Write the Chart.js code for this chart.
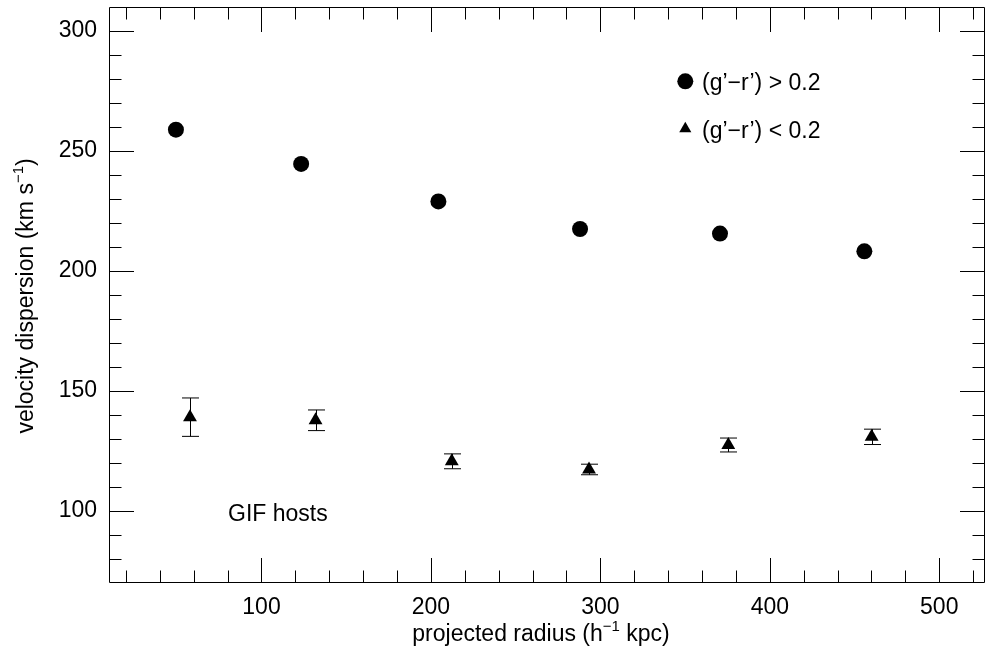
<!DOCTYPE html>
<html lang="en">
<head>
  <meta charset="UTF-8" />
  <title>Velocity dispersion vs projected radius</title>
  <script src="https://cdn.jsdelivr.net/npm/chart.js@4"></script>
  <style>
    body { margin: 0; background: #fff; }
    #wrap { width: 986px; height: 661px; position: relative; }
  </style>
</head>
<body>
  <div id="wrap"><canvas id="chart"></canvas></div>

  <script>
    // red galaxies: (g'-r') > 0.2
    const redRadius = [49.5, 123.4, 204.4, 288.0, 370.6, 455.8];
    const redSigma  = [258.9, 244.6, 229.0, 217.5, 215.6, 208.2];

    // blue galaxies: (g'-r') < 0.2
    const blueRadius = [57.8, 131.9, 212.3, 293.3, 375.5, 460.1];
    const blueSigma  = [139.1, 137.8, 120.7, 117.3, 127.5, 130.9];
    const blueErr    = [8.0, 4.3, 3.1, 2.2, 2.9, 3.2];

    // axis ticks
    const xMajorTicks = [100, 200, 300, 400, 500];
    const xMinorTicks = [20, 40, 60, 80, 120, 140, 160, 180, 220, 240, 260, 280,
                         320, 340, 360, 380, 420, 440, 460, 480, 520];
    const yMajorTicks = [100, 150, 200, 250, 300];
    const yMinorTicks = [80, 90, 110, 120, 130, 140, 160, 170, 180, 190,
                         210, 220, 230, 240, 260, 270, 280, 290];

    const FONT = "'Liberation Sans', Arial, Helvetica, sans-serif";

    // text with superscript pieces: parts = [[text, isSup], ...]
    function drawParts(ctx, parts, cx, baseline, size) {
      const widths = parts.map(p => {
        ctx.font = (p[1] ? size * 0.65 : size) + 'px ' + FONT;
        return ctx.measureText(p[0]).width;
      });
      let x = cx - widths.reduce((a, b) => a + b, 0) / 2;
      parts.forEach((p, i) => {
        ctx.font = (p[1] ? size * 0.65 : size) + 'px ' + FONT;
        ctx.fillText(p[0], x, p[1] ? baseline - size * 0.42 : baseline);
        x += widths[i];
      });
    }

    // keep the plot box where the original has it
    function fixBox(s, w, h) {
      if (w) s.width = w;
      if (h) s.height = h;
      s.paddingLeft = s.paddingRight = s.paddingTop = s.paddingBottom = 0;
    }

    const framePlugin = {
      id: 'frame',
      afterDatasetsDraw(chart) {
        const ctx = chart.ctx;
        const a = chart.chartArea;
        const xs = chart.scales.x, ys = chart.scales.y;
        ctx.save();
        ctx.strokeStyle = '#000';
        ctx.lineWidth = 1;

        // error bars
        ctx.beginPath();
        blueRadius.forEach((r, i) => {
          const px = Math.round(xs.getPixelForValue(r)) + 0.5;
          const lo = ys.getPixelForValue(blueSigma[i] - blueErr[i]);
          const hi = ys.getPixelForValue(blueSigma[i] + blueErr[i]);
          ctx.moveTo(px, lo); ctx.lineTo(px, hi);
          ctx.moveTo(px - 8.5, lo); ctx.lineTo(px + 8.5, lo);
          ctx.moveTo(px - 8.5, hi); ctx.lineTo(px + 8.5, hi);
        });
        ctx.stroke();

        // box
        ctx.beginPath();
        ctx.rect(a.left + 0.5, a.top + 0.5, a.right - a.left - 1, a.bottom - a.top - 1);
        ctx.stroke();

        // inward ticks on all four sides
        ctx.beginPath();
        const xt = (v, len) => {
          const p = Math.round(xs.getPixelForValue(v)) + 0.5;
          ctx.moveTo(p, a.bottom); ctx.lineTo(p, a.bottom - len);
          ctx.moveTo(p, a.top); ctx.lineTo(p, a.top + len);
        };
        const yt = (v, len) => {
          const p = Math.round(ys.getPixelForValue(v)) + 0.5;
          ctx.moveTo(a.left, p); ctx.lineTo(a.left + len, p);
          ctx.moveTo(a.right, p); ctx.lineTo(a.right - len, p);
        };
        xMajorTicks.forEach(v => xt(v, 25));
        xMinorTicks.forEach(v => xt(v, 12.5));
        yMajorTicks.forEach(v => yt(v, 25));
        yMinorTicks.forEach(v => yt(v, 12.5));
        ctx.stroke();

        // legend
        ctx.fillStyle = '#000';
        ctx.beginPath();
        ctx.arc(685.3, 81.3, 8, 0, Math.PI * 2);
        ctx.fill();
        const tr = 7, tx = 685.3, ty = 128.7;
        ctx.beginPath();
        ctx.moveTo(tx, ty - tr);
        ctx.lineTo(tx + tr * Math.sin(2 * Math.PI / 3), ty + tr / 2);
        ctx.lineTo(tx - tr * Math.sin(2 * Math.PI / 3), ty + tr / 2);
        ctx.closePath();
        ctx.fill();

        ctx.font = '23px ' + FONT;
        ctx.textAlign = 'left';
        ctx.textBaseline = 'alphabetic';
        ctx.fillText('(g\u2019\u2212r\u2019) > 0.2', 702, 90);
        ctx.fillText('(g\u2019\u2212r\u2019) < 0.2', 702, 138);
        ctx.fillText('GIF hosts', 228, 521);

        // axis titles
        drawParts(ctx, [['projected radius (h', false], ['\u22121', true], [' kpc)', false]],
          541, 641, 23);
        ctx.save();
        ctx.translate(33, 296);
        ctx.rotate(-Math.PI / 2);
        drawParts(ctx, [['velocity dispersion (km s', false], ['\u22121', true], [')', false]],
          0, 0, 23);
        ctx.restore();

        ctx.restore();
      }
    };

    new Chart(document.getElementById('chart'), {
      type: 'scatter',
      data: {
        datasets: [
          {
            label: "(g'-r') > 0.2",
            data: redRadius.map((x, i) => ({ x: x, y: redSigma[i] })),
            pointStyle: 'circle',
            pointRadius: 8,
            backgroundColor: '#000',
            borderWidth: 0
          },
          {
            label: "(g'-r') < 0.2",
            data: blueRadius.map((x, i) => ({ x: x, y: blueSigma[i] })),
            pointStyle: 'triangle',
            pointRadius: 8,
            backgroundColor: '#000',
            borderWidth: 0
          }
        ]
      },
      options: {
        responsive: true,
        maintainAspectRatio: false,
        animation: false,
        layout: { autoPadding: false, padding: { top: 7, right: 1, bottom: 0, left: 0 } },
        plugins: { legend: { display: false }, tooltip: { enabled: false } },
        scales: {
          x: {
            type: 'linear', min: 10, max: 527,
            afterBuildTicks: s => { s.ticks = xMajorTicks.map(v => ({ value: v })); },
            afterFit: s => fixBox(s, 0, 78),
            grid: { display: false, drawTicks: false, tickLength: 0 },
            border: { display: false },
            ticks: { color: '#000', font: { family: FONT, size: 23 }, padding: 11, maxRotation: 0, autoSkip: false }
          },
          y: {
            type: 'linear', min: 70, max: 310,
            afterBuildTicks: s => { s.ticks = yMajorTicks.map(v => ({ value: v })); },
            afterFit: s => fixBox(s, 109, 0),
            grid: { display: false, drawTicks: false, tickLength: 0 },
            border: { display: false },
            ticks: { color: '#000', font: { family: FONT, size: 23 }, padding: 12, autoSkip: false }
          }
        }
      },
      plugins: [framePlugin]
    });
  </script>
</body>
</html>
